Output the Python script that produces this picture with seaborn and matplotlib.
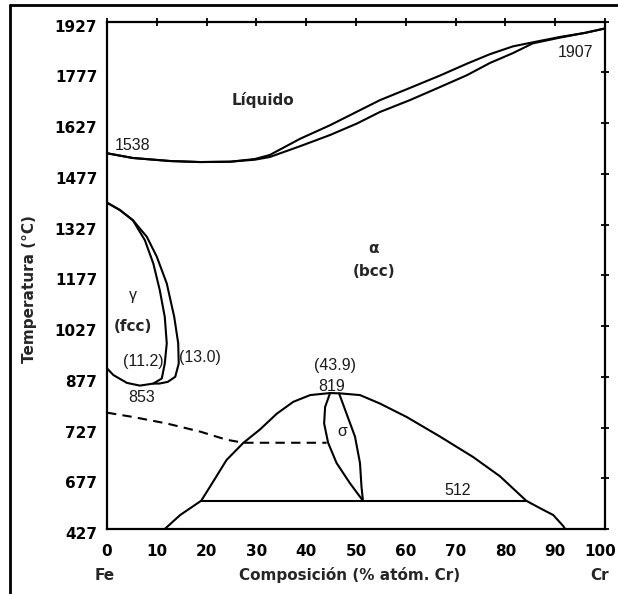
import numpy as np
import pandas as pd
import seaborn as sns
import matplotlib.pyplot as plt
from matplotlib.lines import Line2D
from matplotlib.transforms import ScaledTranslation

# Axis ticks (the temperature axis is not uniform in the original drawing)
y_ticks = [427, 677, 727, 877, 1027, 1177, 1327, 1477, 1627, 1777, 1927]
x_ticks = [0, 10, 20, 30, 40, 50, 60, 70, 80, 90, 100]

# Liquidus / solidus
liq_x = [0, 5.2, 12.7, 18.7, 24.7, 29.7, 32.7, 38.8, 44.8, 50.2, 54.8, 60.8,
         66.9, 72.3, 76.9, 81.5, 85.5, 91.0, 96.0, 100]
liq_t = [1538, 1524, 1515, 1512, 1513, 1521, 1533, 1581, 1621, 1661, 1695, 1731,
         1768, 1803, 1831, 1854, 1866, 1882, 1894, 1907]
sol_t = [1538, 1524, 1515, 1512, 1513, 1519, 1527, 1559, 1592, 1626, 1660, 1695,
         1734, 1769, 1805, 1834, 1863, 1880, 1894, 1907]

# Gamma loop (inner = gamma, outer = gamma + alpha)
gam_in_x = [0, 2.6, 5.2, 7.6, 9.3, 10.6, 11.6, 12.0, 11.6, 11.0, 9.3, 6.6, 4.0, 1.3, 0]
gam_in_t = [1392, 1370, 1340, 1281, 1212, 1133, 1054, 976, 916, 872, 857, 851, 859, 882, 902]
gam_out_x = [0, 2.6, 5.2, 8.0, 10.0, 12.0, 13.5, 14.3, 14.4, 13.7, 12.2, 10.5, 9.3]
gam_out_t = [1392, 1370, 1340, 1291, 1232, 1153, 1054, 976, 916, 877, 862, 857, 857]

# Magnetic transition (dashed)
mag_x = [0, 5.3, 12.0, 18.7, 24.0, 27.4, 44.1]
mag_t = [771, 758, 739, 723, 715, 712, 712]

# Sigma dome
dome_x = [11.6, 14.7, 18.9, 20.7, 24.0, 27.4, 30.7, 34.1, 37.4, 40.8, 44.8, 46.8,
          50.8, 54.8, 60.2, 66.9, 73.5, 78.9, 84.2, 87.0, 89.6, 91.6, 92.0]
dome_t = [427, 496, 566, 636, 695, 712, 725, 768, 803, 823, 829, 828,
          823, 798, 758, 718, 698, 679, 566, 529, 496, 442, 427]

# Eutectoid tie line
tie_x = [18.9, 84.2]
tie_t = [566, 566]

# Sigma lens
lens_x = [44.8, 43.8, 43.6, 44.4, 46.1, 48.8, 51.4, 51.1, 50.8, 49.8, 48.1, 46.6]
lens_t = [829, 788, 739, 712, 692, 652, 566, 636, 692, 718, 768, 828]

sns.set_style("white")
plt.rcParams["font.family"] = ["DejaVu Sans"]

y_pos = np.arange(len(y_ticks))


def fwd(t):
    return np.interp(t, y_ticks, y_pos)


def inv(p):
    return np.interp(p, y_pos, y_ticks)


fig = plt.figure(figsize=(6.18, 5.94), dpi=100)
ax = fig.add_axes([107 / 618, 1 - 529 / 594, 498 / 618, 507.3 / 594])
ax.set_yscale("function", functions=(fwd, inv))

lw = 1.5
curves = [
    (liq_x, liq_t), (liq_x, sol_t),
    (gam_in_x, gam_in_t), (gam_out_x, gam_out_t),
    (dome_x, dome_t), (tie_x, tie_t), (lens_x, lens_t),
]
for xs, ts in curves:
    sns.lineplot(x=xs, y=ts, sort=False, estimator=None, color="black",
                 lw=lw, ax=ax)
sns.lineplot(x=mag_x, y=mag_t, sort=False, estimator=None, color="black",
             lw=lw, ax=ax)
ax.lines[-1].set_dashes((4.5, 3))

ax.set_xlim(0, 100)
ax.set_ylim(427, 1927)
ax.set_xticks(x_ticks)
ax.set_yticks(y_ticks)
ax.set_xticklabels([str(v) for v in x_ticks])
ax.set_yticklabels([str(v) for v in y_ticks])
ax.minorticks_off()
ax.tick_params(direction="inout", length=6, width=1.3, top=True, right=True,
               labelsize=11, colors="black")
ax.tick_params(axis="x", pad=8)
ax.tick_params(axis="y", pad=4)
for lab in ax.get_xticklabels() + ax.get_yticklabels():
    lab.set_fontweight("bold")
# labels sit a little low in the original; "100" is pulled in from the edge
for lab in ax.get_yticklabels():
    lab.set_transform(lab.get_transform()
                      + ScaledTranslation(0, -4 / 100, fig.dpi_scale_trans))
last = ax.get_xticklabels()[-1]
last.set_transform(last.get_transform()
                   + ScaledTranslation(-5 / 100, 0, fig.dpi_scale_trans))
for sp in ax.spines.values():
    sp.set_linewidth(1.6)
    sp.set_color("black")

ax.set_ylabel("Temperatura (°C)", fontsize=11, fontweight="bold")
ax.yaxis.label.set_va("center")
ax.yaxis.set_label_coords(-0.155, 0.473)
ax.set_xlabel("Composición (% atóm. Cr)", fontsize=11, fontweight="bold")
ax.xaxis.label.set_va("center")
ax.xaxis.set_label_coords(0.488, -0.091)
ax.text(-0.004, -0.091, "Fe", transform=ax.transAxes, ha="center", va="center",
        fontsize=11, fontweight="bold")
ax.text(0.99, -0.091, "Cr", transform=ax.transAxes, ha="center", va="center",
        fontsize=11, fontweight="bold")

# Region labels
bold = dict(fontsize=11, fontweight="bold", ha="center", va="center")
ax.text(31.3, 1695, "Líquido", **bold)
ax.text(53.6, 1257, "α", **bold)
ax.text(53.6, 1187, "(bcc)", **bold)
ax.text(5.3, 1025, "(fcc)", **bold)

plain = dict(fontsize=11.5, ha="center", va="center", color="#1a1a1a",
             family=["Liberation Sans", "DejaVu Sans"])
ax.text(1.6, 1560, "1538", **{**plain, "ha": "left"})
ax.text(97.6, 1836, "1907", **{**plain, "ha": "right"})
ax.text(5.3, 1118, "γ", **plain)
ax.text(7.3, 921, "(11.2)", **plain)
ax.text(18.7, 934, "(13.0)", **plain)
ax.text(7.0, 816, "853", **plain)
ax.text(45.8, 911, "(43.9)", **plain)
ax.text(45.2, 849, "819", **plain)
ax.text(47.3, 723, "σ", **plain)
ax.text(70.5, 619, "512", **plain)

# Outer frame (left and top only)
fx = 10 / 618
fy = 1 - 5 / 594
fig.add_artist(Line2D([fx, fx], [0, fy], color="black", lw=2))
fig.add_artist(Line2D([fx, 1], [fy, fy], color="black", lw=2))

fig.savefig("out.png", dpi=100)
